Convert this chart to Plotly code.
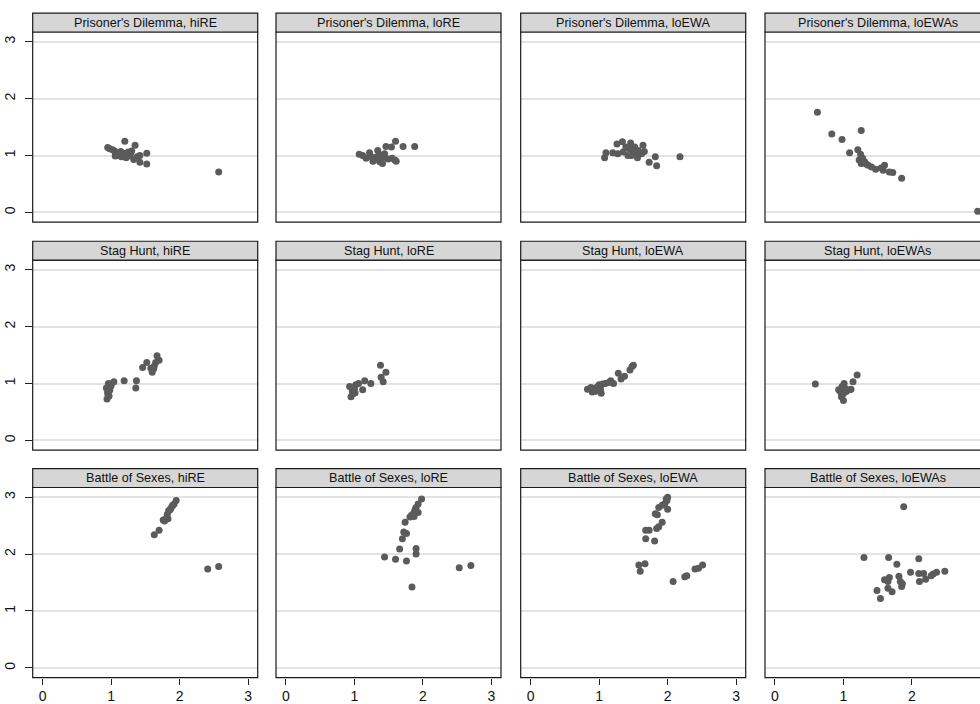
import plotly.graph_objects as go

# ---------------- data ----------------
games = ["Prisoner's Dilemma", "Stag Hunt", "Battle of Sexes"]
models = ["hiRE", "loRE", "loEWA", "loEWAs"]
tick_vals = [0, 1, 2, 3]
tick_text = ["0", "1", "2", "3"]

pd_hire_x = [0.95, 0.98, 1.02, 1.05, 1.08, 1.10, 1.12, 1.15, 1.20, 1.18, 1.22, 1.25, 1.28, 1.30, 1.35, 1.33, 1.38, 1.42, 1.42, 1.52, 1.52, 1.06, 1.14, 2.57, 1.25]
pd_hire_y = [1.14, 1.12, 1.10, 1.08, 1.05, 1.02, 1.00, 0.98, 1.25, 1.04, 0.96, 1.06, 1.02, 1.08, 1.18, 0.93, 0.98, 1.00, 0.88, 1.04, 0.85, 0.99, 1.07, 0.71, 0.99]

pd_lore_x = [1.07, 1.12, 1.17, 1.22, 1.27, 1.32, 1.34, 1.37, 1.39, 1.41, 1.44, 1.46, 1.49, 1.54, 1.55, 1.59, 1.61, 1.60, 1.71, 1.88, 1.30, 1.36, 1.43, 1.25]
pd_lore_y = [1.02, 1.00, 0.95, 1.05, 0.90, 0.97, 1.09, 0.89, 1.00, 0.86, 1.03, 1.16, 0.94, 1.15, 0.95, 0.92, 0.90, 1.25, 1.16, 1.16, 0.93, 1.02, 0.97, 0.98]

pd_loewa_x = [1.08, 1.10, 1.20, 1.26, 1.27, 1.34, 1.35, 1.39, 1.42, 1.46, 1.47, 1.49, 1.52, 1.56, 1.57, 1.62, 1.64, 1.66, 1.73, 1.82, 1.84, 2.18, 1.44, 1.55]
pd_loewa_y = [0.96, 1.05, 1.05, 1.20, 1.03, 1.24, 1.06, 1.15, 1.00, 1.22, 1.00, 1.09, 1.15, 0.96, 1.09, 1.03, 1.18, 1.07, 0.88, 0.98, 0.82, 0.98, 1.12, 1.05]

pd_loewas_x = [0.62, 0.83, 0.98, 1.09, 1.21, 1.26, 1.25, 1.23, 1.26, 1.31, 1.36, 1.41, 1.47, 1.58, 1.60, 1.67, 1.72, 1.85, 2.96, 1.28, 1.33, 1.55]
pd_loewas_y = [1.76, 1.38, 1.28, 1.05, 1.10, 1.44, 1.02, 0.92, 0.86, 0.89, 0.83, 0.80, 0.76, 0.74, 0.83, 0.71, 0.70, 0.60, 0.02, 0.95, 0.85, 0.78]

sh_hire_x = [0.93, 0.94, 0.95, 0.96, 0.98, 1.00, 0.95, 1.04, 0.97, 1.19, 1.36, 1.37, 1.46, 1.52, 1.58, 1.60, 1.62, 1.65, 1.67, 1.70, 1.63, 1.00]
sh_hire_y = [0.92, 0.73, 0.82, 1.00, 0.88, 0.96, 0.86, 1.03, 0.78, 1.05, 0.92, 1.05, 1.28, 1.37, 1.27, 1.20, 1.26, 1.37, 1.49, 1.41, 1.31, 0.99]

sh_lore_x = [0.93, 0.95, 0.97, 1.00, 1.02, 0.98, 1.06, 1.12, 1.15, 1.24, 1.38, 1.39, 1.42, 1.46, 0.96, 1.01]
sh_lore_y = [0.95, 0.77, 0.86, 0.90, 0.98, 0.82, 1.00, 0.89, 1.05, 1.00, 1.32, 1.11, 1.03, 1.20, 0.92, 0.84]

sh_loewa_x = [0.83, 0.88, 0.90, 0.94, 0.97, 1.00, 1.03, 1.05, 1.09, 1.14, 1.17, 1.21, 1.28, 1.32, 1.37, 1.45, 1.48, 1.50, 0.95, 1.02]
sh_loewa_y = [0.90, 0.93, 0.85, 0.86, 0.94, 0.98, 0.83, 0.99, 1.00, 1.02, 1.05, 1.00, 1.18, 1.08, 1.13, 1.24, 1.30, 1.32, 0.91, 0.90]

sh_loewas_x = [0.59, 0.93, 0.97, 1.00, 1.01, 1.04, 1.09, 1.11, 1.14, 1.20, 0.98, 1.00, 1.02, 0.96]
sh_loewas_y = [0.99, 0.89, 0.77, 0.70, 1.00, 0.86, 0.89, 0.90, 1.03, 1.15, 0.95, 0.82, 0.92, 0.85]

bos_hire_x = [1.63, 1.70, 1.76, 1.80, 1.82, 1.84, 1.87, 1.89, 1.92, 1.95, 1.78, 1.86, 1.83, 2.41, 2.57, 1.90]
bos_hire_y = [2.34, 2.42, 2.60, 2.62, 2.70, 2.76, 2.80, 2.84, 2.88, 2.94, 2.58, 2.78, 2.62, 1.74, 1.78, 2.86]

bos_lore_x = [1.98, 1.93, 1.90, 1.88, 1.85, 1.93, 1.87, 1.81, 1.74, 1.72, 1.76, 1.70, 1.66, 1.90, 1.90, 1.44, 1.60, 1.76, 1.84, 2.53, 2.70, 1.83, 1.89]
bos_lore_y = [2.97, 2.88, 2.82, 2.76, 2.70, 2.73, 2.66, 2.65, 2.56, 2.39, 2.36, 2.27, 2.09, 2.10, 2.00, 1.95, 1.91, 1.88, 1.42, 1.76, 1.80, 2.68, 2.79]

bos_loewa_x = [2.00, 1.99, 1.96, 1.92, 1.87, 2.00, 1.82, 1.85, 1.92, 1.87, 1.84, 1.68, 1.73, 1.68, 1.81, 1.58, 1.67, 1.60, 2.08, 2.25, 2.28, 2.40, 2.45, 2.51, 1.98]
bos_loewa_y = [3.00, 2.94, 2.89, 2.86, 2.82, 2.79, 2.71, 2.69, 2.56, 2.48, 2.45, 2.42, 2.42, 2.27, 2.23, 1.81, 1.83, 1.70, 1.52, 1.60, 1.62, 1.74, 1.75, 1.81, 2.97]

bos_loewas_x = [1.88, 1.30, 1.66, 2.10, 1.78, 1.98, 2.10, 2.17, 2.36, 2.48, 2.28, 2.20, 2.11, 1.81, 1.60, 1.67, 1.65, 1.83, 1.85, 1.49, 1.65, 1.71, 1.54, 2.31, 1.86]
bos_loewas_y = [2.83, 1.94, 1.94, 1.92, 1.82, 1.68, 1.66, 1.66, 1.68, 1.70, 1.62, 1.56, 1.52, 1.61, 1.55, 1.59, 1.52, 1.52, 1.43, 1.36, 1.40, 1.34, 1.22, 1.65, 1.48]

panel_data = [
    [(pd_hire_x, pd_hire_y), (pd_lore_x, pd_lore_y), (pd_loewa_x, pd_loewa_y), (pd_loewas_x, pd_loewas_y)],
    [(sh_hire_x, sh_hire_y), (sh_lore_x, sh_lore_y), (sh_loewa_x, sh_loewa_y), (sh_loewas_x, sh_loewas_y)],
    [(bos_hire_x, bos_hire_y), (bos_lore_x, bos_lore_y), (bos_loewa_x, bos_loewa_y), (bos_loewas_x, bos_loewas_y)],
]

# ---------------- layout geometry (page pixels) ----------------
W, H = 980, 704


def px(p):
    return p / W


def py(p):
    return 1 - p / H


col_left = [32.7, 276.0, 520.7, 765.0]
panel_w = 225.0
row_top = [32.3, 262.3, 491.7]   # top of plot region (bottom of header)
panel_h = 191.7
head_h = 19.0
x_lo = -0.145
px_per_x = 68.5
y_range = [-0.17, 3.17]

FONT = "Liberation Sans, Arial, sans-serif"
MARK = "#5b5b5b"

fig = go.Figure()
shapes = []
annotations = []

for r, g in enumerate(games):
    for c, m in enumerate(models):
        i = r * 4 + c + 1
        xs, ys = panel_data[r][c]
        left = col_left[c]
        right_full = left + panel_w
        right_vis = min(right_full, W)
        top = row_top[r]
        bottom = top + panel_h
        xa = "x" if i == 1 else f"x{i}"
        ya = "y" if i == 1 else f"y{i}"
        fig.add_trace(go.Scatter(
            x=xs, y=ys, mode="markers", xaxis=xa, yaxis=ya,
            marker=dict(color=MARK, size=7, line=dict(width=0)),
            showlegend=False, hoverinfo="x+y"))
        x_hi = x_lo + (right_vis - left) / px_per_x
        xkey = "xaxis" if i == 1 else f"xaxis{i}"
        ykey = "yaxis" if i == 1 else f"yaxis{i}"
        bottom_row = (r == len(games) - 1)
        first_col = (c == 0)
        fig.layout[xkey] = dict(
            domain=[px(left), min(px(right_vis), 1.0)], range=[x_lo, x_hi],
            anchor=ya, showgrid=False, zeroline=False, showline=False,
            tickvals=tick_vals if bottom_row else [],
            ticktext=tick_text if bottom_row else [],
            ticks="outside" if bottom_row else "", ticklen=6, tickwidth=1,
            tickcolor="#222", showticklabels=bottom_row,
            tickfont=dict(family=FONT, size=14, color="#111"), fixedrange=True)
        fig.layout[ykey] = dict(
            domain=[py(bottom), py(top)], range=y_range,
            anchor=xa, showgrid=True, gridcolor="#e3e3e3", gridwidth=1.5,
            zeroline=False, showline=False,
            tickvals=tick_vals, ticktext=tick_text,
            ticks="outside" if first_col else "", ticklen=7, tickwidth=1,
            tickcolor="#222", showticklabels=first_col, tickangle=-90,
            ticklabelstandoff=4,
            tickfont=dict(family=FONT, size=14, color="#111"), fixedrange=True)
        # plot region border
        shapes.append(dict(type="rect", xref="paper", yref="paper",
                           x0=px(left), x1=px(right_full),
                           y0=py(bottom), y1=py(top),
                           line=dict(color="#1a1a1a", width=1.2), fillcolor="rgba(0,0,0,0)",
                           layer="above"))
        # header strip
        shapes.append(dict(type="rect", xref="paper", yref="paper",
                           x0=px(left), x1=px(right_full),
                           y0=py(top), y1=py(top - head_h),
                           line=dict(color="#1a1a1a", width=1.2), fillcolor="#d6d6d6",
                           layer="above"))
        annotations.append(dict(text=f"{g}, {m}", xref="paper", yref="paper",
                                x=px(left + panel_w / 2), y=py(top - head_h / 2),
                                xanchor="center", yanchor="middle", showarrow=False,
                                font=dict(family=FONT, size=12.6, color="#111")))

fig.update_layout(width=W, height=H, margin=dict(l=0, r=0, t=0, b=0),
                  paper_bgcolor="white", plot_bgcolor="white",
                  shapes=shapes, annotations=annotations)

fig.write_html("out.html",
               config={"displayModeBar": False},
               post_script="document.body.style.margin='0';document.body.style.overflow='hidden';")
